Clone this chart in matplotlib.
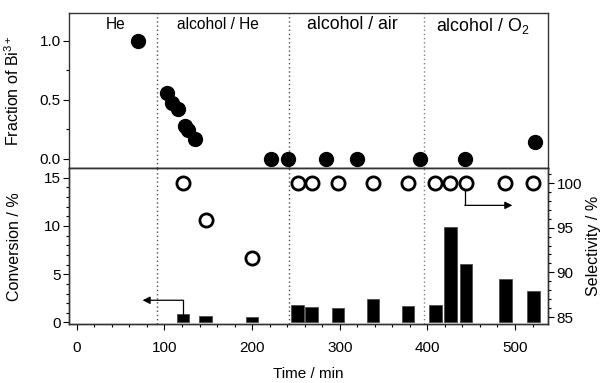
import matplotlib
matplotlib.use("Agg")
from matplotlib import pyplot as plt
from matplotlib.ticker import MultipleLocator

plt.rcParams['font.family'] = ['Liberation Sans', 'DejaVu Sans']
plt.rcParams['mathtext.default'] = 'regular'

# fraction of Bi3+ (upper panel)
t_bi = [70, 103, 109, 115, 123, 127, 135, 222, 241, 284, 320, 392, 443, 523]
bi = [1.0, 0.56, 0.47, 0.42, 0.28, 0.24, 0.17, 0.0, 0.0, 0.0, 0.0, 0.0, 0.0, 0.14]

# conversion (bars) and selectivity (open circles), lower panel
t_cat = [121, 147, 200, 252, 268, 298, 338, 378, 409, 426, 444, 489, 521]
conversion = [0.86, 0.65, 0.52, 1.79, 1.61, 1.51, 2.38, 1.69, 1.86, 9.89, 6.06, 4.51, 3.31]
selectivity = [100, 95.9, 91.6, 100, 100, 100, 100, 100, 100, 100, 100, 100, 100]

# gas changes
t_switch = [92, 242, 396]

fig = plt.figure(figsize=(6.03, 3.83), dpi=100)
ax_top = fig.add_axes([0.1144, 0.5606, 0.7949, 0.4046])
ax_low = fig.add_axes([0.1144, 0.1532, 0.7949, 0.4074], sharex=ax_top)
ax_sel = ax_low.twinx()

tick_fs = 11
lab_fs = 11.5

# upper panel
ax_top.plot(t_bi, bi, 'o', color='black', markersize=10, zorder=3)
ax_top.set_ylim(-0.083, 1.235)
ax_top.set_xlim(-9, 538)
ax_top.yaxis.set_major_locator(MultipleLocator(0.5))
ax_top.yaxis.set_minor_locator(MultipleLocator(0.25))
ax_top.yaxis.set_major_formatter(matplotlib.ticker.FormatStrFormatter('%.1f'))
ax_top.tick_params(axis='x', which='both', bottom=False, labelbottom=False)
ax_top.tick_params(axis='y', labelsize=tick_fs, length=4, width=0.8, pad=2)
ax_top.tick_params(axis='y', which='minor', length=2.5, width=0.8)
ax_top.set_ylabel('Fraction of Bi$^{3+}$', fontsize=lab_fs)
ax_top.yaxis.set_label_coords(-0.098, 0.5)

# lower panel
ax_low.bar(t_cat, conversion, width=14.5, color='black', edgecolor='0.3',
           linewidth=0.6, bottom=0, zorder=2)
ax_low.set_ylim(-0.19, 15.96)
ax_low.yaxis.set_major_locator(MultipleLocator(5))
ax_low.yaxis.set_minor_locator(MultipleLocator(1))
ax_low.xaxis.set_major_locator(MultipleLocator(100))
ax_low.xaxis.set_minor_locator(MultipleLocator(20))
ax_low.tick_params(labelsize=tick_fs, length=4, width=0.8, pad=2)
ax_low.tick_params(which='minor', length=2.5, width=0.8)
ax_low.tick_params(axis='x', pad=8)
ax_low.set_ylabel('Conversion / %', fontsize=lab_fs)
ax_low.yaxis.set_label_coords(-0.098, 0.5)
ax_low.set_xlabel('Time / min', fontsize=11, labelpad=9)

ax_sel.plot(t_cat, selectivity, 'o', markerfacecolor='white', markeredgecolor='black',
            markeredgewidth=2, markersize=9.5, zorder=3)
ax_sel.set_ylim(84.18, 101.65)
ax_sel.yaxis.set_major_locator(MultipleLocator(5))
ax_sel.yaxis.set_minor_locator(MultipleLocator(1))
ax_sel.tick_params(labelsize=tick_fs, length=4, width=0.8, pad=2)
ax_sel.tick_params(which='minor', length=2.5, width=0.8)
ax_sel.set_ylabel('Selectivity / %', fontsize=lab_fs, labelpad=3)

for ax in (ax_top, ax_low, ax_sel):
    for s in ax.spines.values():
        s.set_linewidth(1.0)
        s.set_color('0.2')

# dotted lines for the gas switches
for ts, col in zip(t_switch, ['0.3', '0.3', '0.5']):
    ax_top.axvline(ts, color=col, linestyle=(0, (1, 2)), linewidth=1, zorder=1)
    ax_low.axvline(ts, color=col, linestyle=(0, (1, 2)), linewidth=1, zorder=1)

# region labels
ax_top.text(44, 1.14, 'He', ha='center', va='center', fontsize=11.2)
ax_top.text(161, 1.14, 'alcohol / He', ha='center', va='center', fontsize=11.2)
ax_top.text(314, 1.14, 'alcohol / air', ha='center', va='center', fontsize=12.8)
ax_top.text(463, 1.13, 'alcohol / O$_2$', ha='center', va='center', fontsize=12.8)

# arrows pointing to the right axis
ax_low.plot([121, 121], [0.86, 2.3], color='black', linewidth=0.9)
ax_low.annotate('', xy=(75, 2.3), xytext=(121.4, 2.3),
                arrowprops=dict(arrowstyle='-|>', color='black', lw=0.9,
                                mutation_scale=11, shrinkA=0, shrinkB=0))
ax_sel.plot([443, 443], [99.2, 97.5], color='black', linewidth=0.9)
ax_sel.annotate('', xy=(497, 97.5), xytext=(442.6, 97.5),
                arrowprops=dict(arrowstyle='-|>', color='black', lw=0.9,
                                mutation_scale=11, shrinkA=0, shrinkB=0))

fig.savefig('out.png', dpi=100)
